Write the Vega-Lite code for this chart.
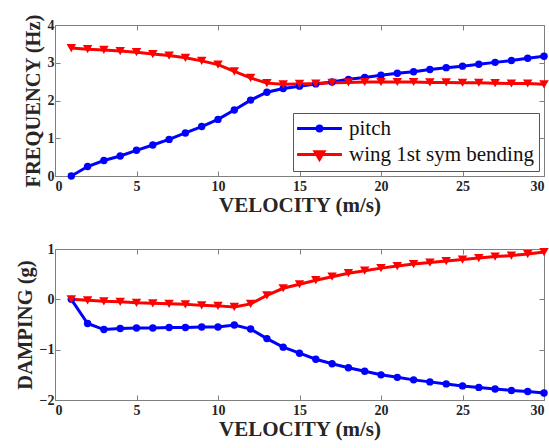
{
  "$schema": "https://vega.github.io/schema/vega-lite/v6.json",
  "padding": {"left": 14, "top": 13, "right": 0, "bottom": 5},
  "background": "white",
  "datasets": {
    "freq": [
      {"v":1,"series":"pitch","value":0},{"v":2,"series":"pitch","value":0.25},{"v":3,"series":"pitch","value":0.41},{"v":4,"series":"pitch","value":0.53},{"v":5,"series":"pitch","value":0.68},{"v":6,"series":"pitch","value":0.82},{"v":7,"series":"pitch","value":0.97},{"v":8,"series":"pitch","value":1.14},{"v":9,"series":"pitch","value":1.31},{"v":10,"series":"pitch","value":1.5},{"v":11,"series":"pitch","value":1.75},{"v":12,"series":"pitch","value":2.01},{"v":13,"series":"pitch","value":2.22},{"v":14,"series":"pitch","value":2.32},{"v":15,"series":"pitch","value":2.38},{"v":16,"series":"pitch","value":2.44},{"v":17,"series":"pitch","value":2.49},{"v":18,"series":"pitch","value":2.56},{"v":19,"series":"pitch","value":2.61},{"v":20,"series":"pitch","value":2.67},{"v":21,"series":"pitch","value":2.72},{"v":22,"series":"pitch","value":2.76},{"v":23,"series":"pitch","value":2.82},{"v":24,"series":"pitch","value":2.87},{"v":25,"series":"pitch","value":2.91},{"v":26,"series":"pitch","value":2.96},{"v":27,"series":"pitch","value":3.01},{"v":28,"series":"pitch","value":3.06},{"v":29,"series":"pitch","value":3.12},{"v":30,"series":"pitch","value":3.17},
      {"v":1,"series":"wing 1st sym bending","value":3.39},{"v":2,"series":"wing 1st sym bending","value":3.36},{"v":3,"series":"wing 1st sym bending","value":3.34},{"v":4,"series":"wing 1st sym bending","value":3.31},{"v":5,"series":"wing 1st sym bending","value":3.28},{"v":6,"series":"wing 1st sym bending","value":3.23},{"v":7,"series":"wing 1st sym bending","value":3.19},{"v":8,"series":"wing 1st sym bending","value":3.13},{"v":9,"series":"wing 1st sym bending","value":3.05},{"v":10,"series":"wing 1st sym bending","value":2.95},{"v":11,"series":"wing 1st sym bending","value":2.77},{"v":12,"series":"wing 1st sym bending","value":2.6},{"v":13,"series":"wing 1st sym bending","value":2.46},{"v":14,"series":"wing 1st sym bending","value":2.43},{"v":15,"series":"wing 1st sym bending","value":2.44},{"v":16,"series":"wing 1st sym bending","value":2.45},{"v":17,"series":"wing 1st sym bending","value":2.47},{"v":18,"series":"wing 1st sym bending","value":2.48},{"v":19,"series":"wing 1st sym bending","value":2.49},{"v":20,"series":"wing 1st sym bending","value":2.49},{"v":21,"series":"wing 1st sym bending","value":2.49},{"v":22,"series":"wing 1st sym bending","value":2.49},{"v":23,"series":"wing 1st sym bending","value":2.48},{"v":24,"series":"wing 1st sym bending","value":2.48},{"v":25,"series":"wing 1st sym bending","value":2.47},{"v":26,"series":"wing 1st sym bending","value":2.47},{"v":27,"series":"wing 1st sym bending","value":2.46},{"v":28,"series":"wing 1st sym bending","value":2.45},{"v":29,"series":"wing 1st sym bending","value":2.45},{"v":30,"series":"wing 1st sym bending","value":2.43}
    ],
    "damp": [
      {"v":1,"series":"pitch","value":0},{"v":2,"series":"pitch","value":-0.48},{"v":3,"series":"pitch","value":-0.6},{"v":4,"series":"pitch","value":-0.58},{"v":5,"series":"pitch","value":-0.57},{"v":6,"series":"pitch","value":-0.57},{"v":7,"series":"pitch","value":-0.56},{"v":8,"series":"pitch","value":-0.56},{"v":9,"series":"pitch","value":-0.55},{"v":10,"series":"pitch","value":-0.55},{"v":11,"series":"pitch","value":-0.51},{"v":12,"series":"pitch","value":-0.59},{"v":13,"series":"pitch","value":-0.78},{"v":14,"series":"pitch","value":-0.95},{"v":15,"series":"pitch","value":-1.07},{"v":16,"series":"pitch","value":-1.19},{"v":17,"series":"pitch","value":-1.28},{"v":18,"series":"pitch","value":-1.36},{"v":19,"series":"pitch","value":-1.43},{"v":20,"series":"pitch","value":-1.5},{"v":21,"series":"pitch","value":-1.55},{"v":22,"series":"pitch","value":-1.6},{"v":23,"series":"pitch","value":-1.64},{"v":24,"series":"pitch","value":-1.68},{"v":25,"series":"pitch","value":-1.72},{"v":26,"series":"pitch","value":-1.75},{"v":27,"series":"pitch","value":-1.78},{"v":28,"series":"pitch","value":-1.81},{"v":29,"series":"pitch","value":-1.83},{"v":30,"series":"pitch","value":-1.86},
      {"v":1,"series":"wing 1st sym bending","value":0},{"v":2,"series":"wing 1st sym bending","value":-0.02},{"v":3,"series":"wing 1st sym bending","value":-0.04},{"v":4,"series":"wing 1st sym bending","value":-0.05},{"v":5,"series":"wing 1st sym bending","value":-0.07},{"v":6,"series":"wing 1st sym bending","value":-0.08},{"v":7,"series":"wing 1st sym bending","value":-0.09},{"v":8,"series":"wing 1st sym bending","value":-0.1},{"v":9,"series":"wing 1st sym bending","value":-0.12},{"v":10,"series":"wing 1st sym bending","value":-0.13},{"v":11,"series":"wing 1st sym bending","value":-0.15},{"v":12,"series":"wing 1st sym bending","value":-0.09},{"v":13,"series":"wing 1st sym bending","value":0.08},{"v":14,"series":"wing 1st sym bending","value":0.22},{"v":15,"series":"wing 1st sym bending","value":0.3},{"v":16,"series":"wing 1st sym bending","value":0.38},{"v":17,"series":"wing 1st sym bending","value":0.45},{"v":18,"series":"wing 1st sym bending","value":0.52},{"v":19,"series":"wing 1st sym bending","value":0.57},{"v":20,"series":"wing 1st sym bending","value":0.62},{"v":21,"series":"wing 1st sym bending","value":0.66},{"v":22,"series":"wing 1st sym bending","value":0.7},{"v":23,"series":"wing 1st sym bending","value":0.73},{"v":24,"series":"wing 1st sym bending","value":0.76},{"v":25,"series":"wing 1st sym bending","value":0.79},{"v":26,"series":"wing 1st sym bending","value":0.82},{"v":27,"series":"wing 1st sym bending","value":0.85},{"v":28,"series":"wing 1st sym bending","value":0.87},{"v":29,"series":"wing 1st sym bending","value":0.9},{"v":30,"series":"wing 1st sym bending","value":0.94}
    ]
  },
  "config": {
    "view": {"stroke": "#7f7f7f", "strokeWidth": 1},
    "font": "Liberation Serif",
    "axis": {
      "grid": false,
      "domainColor": "#7f7f7f",
      "tickColor": "#7f7f7f",
      "labelColor": "#262626",
      "titleColor": "#262626",
      "labelFont": "Liberation Serif",
      "labelFontWeight": "bold",
      "labelFontSize": 14,
      "titleFont": "Liberation Serif",
      "titleFontWeight": "bold",
      "tickSize": -5
    },
    "axisX": {"titleFontSize": 21, "labelPadding": 8, "titlePadding": 1},
    "axisY": {"titleFontSize": 20.5, "labelPadding": 6, "titlePadding": 4}
  },
  "vconcat": [
    {
      "width": 489, "height": 151,
      "data": {"name": "freq"},
      "resolve": {"axis": {"x": "independent", "y": "independent"}},
      "layer": [
        {
          "mark": {"type": "line", "strokeWidth": 3},
          "encoding": {
            "x": {"field": "v", "type": "quantitative", "scale": {"domain": [0, 30], "nice": false, "zero": false},
                  "axis": {"values": [0,5,10,15,20,25,30], "title": "VELOCITY (m/s)", "orient": "bottom"}},
            "y": {"field": "value", "type": "quantitative", "scale": {"domain": [0, 4], "nice": false},
                  "axis": {"values": [0,1,2,3,4], "title": "FREQUENCY (Hz)", "orient": "left"}},
            "color": {"field": "series", "type": "nominal",
              "scale": {"domain": ["pitch", "wing 1st sym bending"], "range": ["#0000ff", "#ff0000"]},
              "legend": {
                "title": null, "orient": "none", "legendX": 238, "legendY": 88,
                "fillColor": "white", "strokeColor": "#555555", "padding": 5,
                "labelFont": "Liberation Serif", "labelFontSize": 21, "labelFontWeight": "normal", "labelColor": "#111111", "labelLimit": 400,
                "symbolSize": 64, "symbolOffset": 11, "labelOffset": 19, "rowPadding": 4, "symbolStrokeWidth": 3,
                "encode": {
                  "symbols": {"update": {
                  "shape": {"signal": "datum.value == 'pitch' ? 'M-5.6,0H5.6M0.6,0A0.6,0.6,0,1,1,-0.6,0A0.6,0.6,0,1,1,0.6,0Z' : 'M-5.6,0H5.6M-1.1,-0.7L1.1,-0.7L0,1.2Z'"},
                  "fill": {"signal": "datum.value == 'pitch' ? '#0000ff' : '#ff0000'"},
                  "stroke": {"signal": "datum.value == 'pitch' ? '#0000ff' : '#ff0000'"},
                  "strokeWidth": {"value": 3},
                  "opacity": {"value": 1}
                }}}
              }}
          }
        },
        {
          "transform": [{"filter": "datum.series == 'pitch'"}],
          "mark": {"type": "point", "filled": true, "opacity": 1, "shape": "circle", "size": 55, "color": "#0000ff"},
          "encoding": {
            "x": {"field": "v", "type": "quantitative", "scale": {"domain": [0, 30], "nice": false, "zero": false},
                  "axis": {"values": [0,5,10,15,20,25,30], "title": null, "orient": "top", "labels": false, "domain": false}},
            "y": {"field": "value", "type": "quantitative", "scale": {"domain": [0, 4], "nice": false},
                  "axis": {"values": [0,1,2,3,4], "title": null, "orient": "right", "labels": false, "domain": false}}
          }
        },
        {
          "transform": [{"filter": "datum.series != 'pitch'"}],
          "mark": {"type": "point", "filled": true, "opacity": 1, "shape": "triangle-down", "size": 90, "color": "#ff0000"},
          "encoding": {
            "x": {"field": "v", "type": "quantitative", "axis": null},
            "y": {"field": "value", "type": "quantitative", "axis": null}
          }
        }
      ]
    },
    {
      "width": 489, "height": 151,
      "data": {"name": "damp"},
      "resolve": {"axis": {"x": "independent", "y": "independent"}},
      "layer": [
        {
          "mark": {"type": "line", "strokeWidth": 3},
          "encoding": {
            "x": {"field": "v", "type": "quantitative", "scale": {"domain": [0, 30], "nice": false, "zero": false},
                  "axis": {"values": [0,5,10,15,20,25,30], "title": "VELOCITY (m/s)", "orient": "bottom"}},
            "y": {"field": "value", "type": "quantitative", "scale": {"domain": [-2, 1], "nice": false},
                  "axis": {"values": [-2,-1,0,1], "title": "DAMPING (g)", "orient": "left"}},
            "color": {"field": "series", "type": "nominal",
              "scale": {"domain": ["pitch", "wing 1st sym bending"], "range": ["#0000ff", "#ff0000"]},
              "legend": null}
          }
        },
        {
          "transform": [{"filter": "datum.series == 'pitch'"}],
          "mark": {"type": "point", "filled": true, "opacity": 1, "shape": "circle", "size": 55, "color": "#0000ff"},
          "encoding": {
            "x": {"field": "v", "type": "quantitative", "scale": {"domain": [0, 30], "nice": false, "zero": false},
                  "axis": {"values": [0,5,10,15,20,25,30], "title": null, "orient": "top", "labels": false, "domain": false}},
            "y": {"field": "value", "type": "quantitative", "scale": {"domain": [-2, 1], "nice": false},
                  "axis": {"values": [-2,-1,0,1], "title": null, "orient": "right", "labels": false, "domain": false}}
          }
        },
        {
          "transform": [{"filter": "datum.series != 'pitch'"}],
          "mark": {"type": "point", "filled": true, "opacity": 1, "shape": "triangle-down", "size": 90, "color": "#ff0000"},
          "encoding": {
            "x": {"field": "v", "type": "quantitative", "axis": null},
            "y": {"field": "value", "type": "quantitative", "axis": null}
          }
        }
      ]
    }
  ],
  "bounds": "flush",
  "spacing": 73,
  "resolve": {"scale": {"color": "independent"}}
}
